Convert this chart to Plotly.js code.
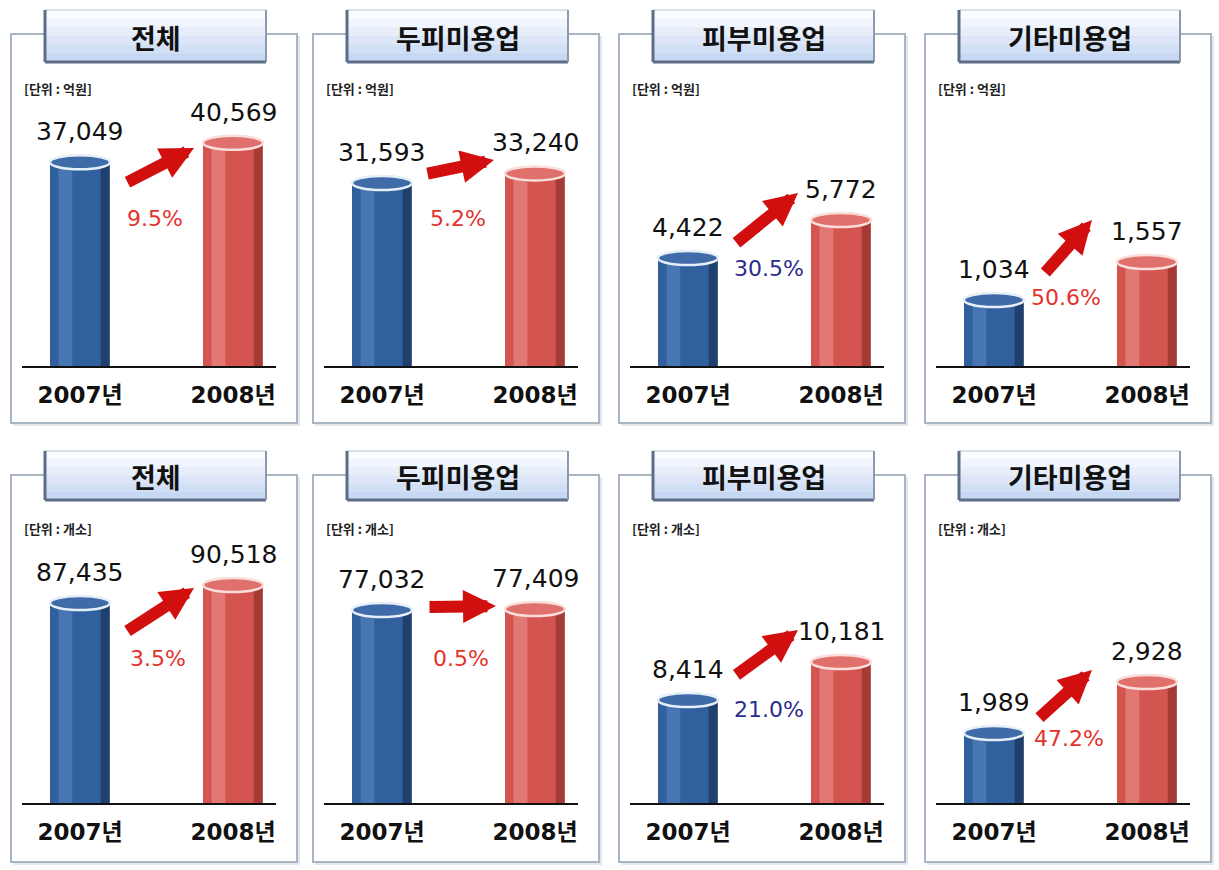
<!DOCTYPE html>
<html>
<head>
<meta charset="utf-8">
<script src="https://cdn.plot.ly/plotly-3.0.1.min.js"></script>
<style>html,body{margin:0;padding:0;background:#fff;}#chart{width:1219px;height:870px;}</style>
</head>
<body>
<div id="chart"></div>
<script>
// ---- data ----
const years = ['2007년', '2008년'];
const panelTitles = ['전체', '두피미용업', '피부미용업', '기타미용업'];
const units = ['[단위 : 억원]', '[단위 : 개소]'];
const sales2007 = [37049, 31593, 4422, 1034];
const sales2008 = [40569, 33240, 5772, 1557];
const shops2007 = [87435, 77032, 8414, 1989];
const shops2008 = [90518, 77409, 10181, 2928];

// ---- layout config ----
const W = 1219, H = 870;
const px = x => x / W, py = y => 1 - y / H;
const FONT = 'Noto Sans CJK KR, Noto Sans, sans-serif';
const NUMFONT = 'DejaVu Sans, Noto Sans CJK KR, sans-serif';
const panelLeft = [11, 313, 619, 925];
const panelW = 286;
const rows = [
  {boxTop: 34, boxBot: 423, tabTop: 10, tabBot: 62, base: 366, top: 100, unitY: 88},
  {boxTop: 475, boxBot: 862, tabTop: 451, tabBot: 500, base: 803, top: 537, unitY: 528}
];
const yRanges = [
  [[0, 48360], [0, 45920], [585, 10035], [126, 3787]],
  [[53177, 98741], [0, 106180], [3623, 15995], [700, 5598]]
];
// percent label placement (fraction of the plot domain)
const pctPos = [
  [[0.524, 0.556], [0.528, 0.556], [0.547, 0.368], [0.512, 0.259]],
  [[0.535, 0.545], [0.539, 0.545], [0.547, 0.35], [0.522, 0.244]]
];
// arrows: [tailX, tailY, headX, headY] in px
const arrows = [
  [[126, 183, 194, 148], [426, 174, 494, 160], [735, 244, 798, 193], [1044, 274, 1092, 220]],
  [[126, 632, 194, 588], [428, 607, 496, 606], [735, 676, 798, 630], [1038, 719, 1092, 670]]
];

const blue = {edge: '#1f3f6d', body: '#30609d', hi: '#4876b3', cap: '#3f6ca8', capLine: '#e6eef8'};
const red = {edge: '#a63a36', body: '#d45550', hi: '#e27873', cap: '#e0706b', capLine: '#f9dedc'};

const traces = [];
const shapes = [];
const annotations = [];
const layout = {
  width: W, height: H,
  margin: {l: 0, r: 0, t: 0, b: 0},
  paper_bgcolor: '#ffffff', plot_bgcolor: 'rgba(0,0,0,0)',
  showlegend: false, barmode: 'overlay',
  font: {family: FONT, color: '#111'},
  shapes: shapes, annotations: annotations
};

const tabBands = ['#fafcff', '#f1f5fd', '#e7eefa', '#dce6f8', '#d2e0f5', '#c7d8f2'];

for (let r = 0; r < 2; r++) {
  const R = rows[r];
  const v07 = r === 0 ? sales2007 : shops2007;
  const v08 = r === 0 ? sales2008 : shops2008;
  for (let c = 0; c < 4; c++) {
    const p = r * 4 + c;
    const xa = p === 0 ? 'x' : 'x' + (p + 1);
    const ya = p === 0 ? 'y' : 'y' + (p + 1);
    const L = panelLeft[c];
    // panel box with soft shadow
    shapes.push({type: 'rect', xref: 'paper', yref: 'paper', layer: 'below',
      x0: px(L + 2), x1: px(L + panelW + 3), y0: py(R.boxTop + 2), y1: py(R.boxBot + 3),
      fillcolor: '#e3e6eb', line: {width: 0}});
    shapes.push({type: 'rect', xref: 'paper', yref: 'paper', layer: 'below',
      x0: px(L), x1: px(L + panelW), y0: py(R.boxTop), y1: py(R.boxBot),
      fillcolor: '#ffffff', line: {color: '#aab5c4', width: 2}});
    // title tab
    const tL = L + 34, tR = L + 255;
    const bh = (R.tabBot - R.tabTop) / tabBands.length;
    tabBands.forEach((col, i) => {
      shapes.push({type: 'rect', xref: 'paper', yref: 'paper', layer: 'below',
        x0: px(tL), x1: px(tR), y0: py(R.tabTop + i * bh), y1: py(R.tabTop + (i + 1) * bh + 0.5),
        fillcolor: col, line: {width: 0}});
    });
    shapes.push({type: 'rect', xref: 'paper', yref: 'paper', layer: 'below',
      x0: px(tL), x1: px(tR), y0: py(R.tabTop), y1: py(R.tabBot),
      fillcolor: 'rgba(0,0,0,0)', line: {color: '#b9c3d2', width: 1}});
    shapes.push({type: 'line', xref: 'paper', yref: 'paper', layer: 'below',
      x0: px(tL), x1: px(tL), y0: py(R.tabTop), y1: py(R.tabBot), line: {color: '#5e6d86', width: 3}});
    shapes.push({type: 'line', xref: 'paper', yref: 'paper', layer: 'below',
      x0: px(tL), x1: px(tR), y0: py(R.tabBot), y1: py(R.tabBot), line: {color: '#5e6d86', width: 3}});
    shapes.push({type: 'line', xref: 'paper', yref: 'paper', layer: 'below',
      x0: px(tR), x1: px(tR), y0: py(R.tabTop), y1: py(R.tabBot), line: {color: '#8d99ad', width: 2}});
    annotations.push({xref: 'paper', yref: 'paper', x: px((tL + tR) / 2), y: py((R.tabTop + R.tabBot) / 2 + 1),
      text: panelTitles[c], showarrow: false, xanchor: 'center', yanchor: 'middle',
      font: {family: FONT, size: 27, weight: 'bold', color: '#111'}});
    // unit label
    annotations.push({xref: 'paper', yref: 'paper', x: px(L + 11), y: py(R.unitY),
      text: units[r], showarrow: false, xanchor: 'left', yanchor: 'middle',
      font: {family: FONT, size: 13, weight: 'bold', color: '#222'}});

    // axes
    const axL = L + 11, axR = L + 265;
    layout['xaxis' + (p === 0 ? '' : p + 1)] = {
      domain: [px(axL), px(axR)], anchor: ya, range: [-0.379, 1.281],
      tickvals: [0, 1], ticktext: years, ticks: '', showgrid: false, zeroline: false,
      showline: true, linecolor: '#111', linewidth: 2, ticklabelstandoff: 7,
      tickfont: {family: NUMFONT, size: 23, weight: 'bold', color: '#111'}, fixedrange: true
    };
    layout['yaxis' + (p === 0 ? '' : p + 1)] = {
      domain: [py(R.base), py(R.top)], anchor: xa, range: yRanges[r][c],
      showgrid: false, zeroline: false, showticklabels: false, showline: false, ticks: '', fixedrange: true
    };

    const vals = [v07[c], v08[c]];
    const X = [0, 1];
    traces.push({type: 'bar', x: X, y: vals, xaxis: xa, yaxis: ya, width: 0.39,
      marker: {color: [blue.edge, red.edge], line: {width: 0}}, hoverinfo: 'skip'});
    traces.push({type: 'bar', x: X, y: vals, xaxis: xa, yaxis: ya, width: 0.33, offset: -0.195,
      marker: {color: [blue.body, red.body], line: {width: 0}}, hoverinfo: 'skip'});
    traces.push({type: 'bar', x: X, y: vals, xaxis: xa, yaxis: ya, width: 0.09, offset: -0.14,
      marker: {color: [blue.hi, red.hi], line: {width: 0}}, hoverinfo: 'skip'});

    vals.forEach((v, i) => {
      const col = i === 0 ? blue : red;
      shapes.push({type: 'circle', xref: xa, yref: ya, xsizemode: 'pixel', ysizemode: 'pixel',
        xanchor: X[i], yanchor: v, x0: -30, x1: 30, y0: -7, y1: 7,
        fillcolor: col.cap, line: {color: col.capLine, width: 2.5}});
      annotations.push({xref: xa, yref: ya, x: X[i], y: v, yshift: 14,
        text: v.toLocaleString('en-US'), showarrow: false, xanchor: 'center', yanchor: 'bottom',
        font: {family: NUMFONT, size: 25, color: '#111'}});
    });

    // growth arrow
    const a = arrows[r][c];
    annotations.push({xref: 'paper', yref: 'paper', x: px(a[2]), y: py(a[3]),
      ax: a[0] - a[2], ay: a[1] - a[3], text: '', showarrow: true,
      arrowhead: 2, arrowsize: 0.55, arrowwidth: 12, arrowcolor: '#d10f0f', standoff: 0});

    // growth percent
    const pct = (vals[1] - vals[0]) / vals[0] * 100;
    const pp = pctPos[r][c];
    annotations.push({xref: xa + ' domain', yref: ya + ' domain', x: pp[0], y: pp[1],
      text: pct.toFixed(1) + '%', showarrow: false, xanchor: 'center', yanchor: 'middle',
      font: {family: NUMFONT, size: 22, color: c === 2 ? '#2c2c8c' : '#e3332c'}});
  }
}

Plotly.newPlot('chart', traces, layout, {staticPlot: true, displayModeBar: false});
</script>
</body>
</html>
